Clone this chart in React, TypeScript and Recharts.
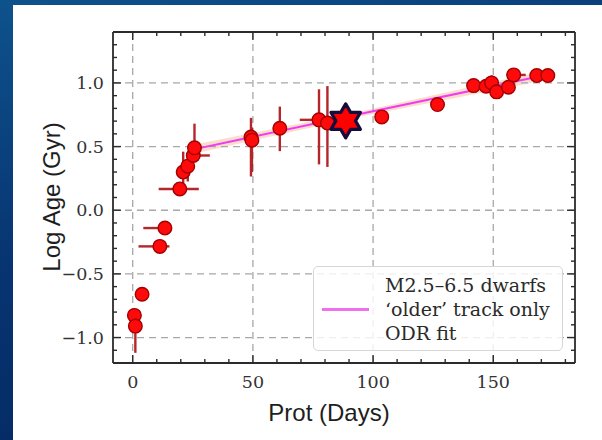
import {
  Area,
  ComposedChart,
  ErrorBar,
  Line,
  ReferenceLine,
  Scatter,
  XAxis,
  YAxis
} from "recharts";

// ---- data ----
const starX = [0.7, 1.1, 3.9, 11.3, 13.4, 19.6, 21.0, 22.9, 25.2, 25.7, 49.2, 49.6, 61.2, 77.5, 81.0, 103.6, 126.8, 141.8, 147.0, 149.3, 151.4, 156.3, 158.5, 168.1, 172.7];
const starY = [-0.826, -0.91, -0.66, -0.284, -0.14, 0.167, 0.3, 0.346, 0.43, 0.49, 0.575, 0.55, 0.644, 0.71, 0.685, 0.733, 0.83, 0.979, 0.974, 1.0, 0.93, 0.966, 1.063, 1.058, 1.058];
const xErrLow = [0, 0, 0, 8.9, 9.0, 8.8, 0, 0, 2.5, 0, 0, 0, 0, 8.0, 0, 2.0, 0, 0, 0, 0, 0, 0, 3.0, 0, 0];
const xErrHigh = [0, 0, 0, 4.0, 2.2, 7.9, 0, 0, 6.9, 0, 0, 0, 0, 2.0, 0, 3.0, 0, 0, 0, 0, 0, 0, 5.0, 0, 0];
const yErrLow = [0, 0.21, 0, 0, 0, 0, 0.09, 0.12, 0, 0.04, 0.31, 0.25, 0.18, 0.35, 0.345, 0, 0, 0, 0, 0.03, 0, 0, 0, 0, 0];
const yErrHigh = [0, 0.04, 0, 0, 0, 0, 0.16, 0.1, 0, 0.19, 0.15, 0.1, 0.17, 0.24, 0.29, 0, 0, 0, 0, 0.06, 0, 0, 0, 0, 0];

// TOI target (star marker)
const targetX = [88.6];
const targetY = [0.702];

// ODR fit of the 'older' track + its uncertainty band
const fitX = [26.8, 96, 166];
const fitY = [0.484, 0.761, 1.038];
const fitLow = [0.45, 0.741, 1.0];
const fitHigh = [0.52, 0.781, 1.075];

const majorXTicks = [0, 50, 100, 150];
const minorXTicks = [0, 10, 20, 30, 40, 50, 60, 70, 80, 90, 100, 110, 120, 130, 140, 150, 160, 170, 180];
const majorYTicks = [-1.0, -0.5, 0.0, 0.5, 1.0];
const majorYLabels = ["\u22121.0", "\u22120.5", "0.0", "0.5", "1.0"];
const minorYTicks = [-1.2, -1.1, -1.0, -0.9, -0.8, -0.7, -0.6, -0.5, -0.4, -0.3, -0.2, -0.1, 0.0, 0.1, 0.2, 0.3, 0.4, 0.5, 0.6, 0.7, 0.8, 0.9, 1.0, 1.1, 1.2, 1.3, 1.4];

const legendLines = ["M2.5\u20136.5 dwarfs", "\u2018older\u2019 track only", "ODR fit"];

// ---- layout ----
const X_DOMAIN: [number, number] = [-8.2, 184];
const Y_DOMAIN: [number, number] = [-1.2, 1.4];
const PLOT = { left: 113, right: 575, top: 32, bottom: 363 };
const AXIS = "#2b2b2b";
const GRID = "#a8a8a8";
const SERIF = "'DejaVu Serif', serif";
const SANS = "'Liberation Sans', Arial, sans-serif";

const points = starX.map((x, i) => ({
  x,
  y: starY[i],
  xerr: [xErrLow[i], xErrHigh[i]],
  yerr: [yErrLow[i], yErrHigh[i]]
}));
const target = targetX.map((x, i) => ({ x, y: targetY[i] }));
const fitData = fitX.map((x, i) => ({ x, fit: fitY[i], band: [fitLow[i], fitHigh[i]] }));

const isMajor = (v: number, list: number[]) => list.some((m) => Math.abs(m - v) < 1e-6);

const XTick = (props: any) => {
  const { x, payload } = props;
  const v = payload.value;
  const major = isMajor(v, majorXTicks);
  const len = major ? 8 : 4;
  return (
    <g>
      <line x1={x} x2={x} y1={PLOT.bottom} y2={PLOT.bottom - len} stroke={AXIS} strokeWidth={1.4} />
      <line x1={x} x2={x} y1={PLOT.top} y2={PLOT.top + len} stroke={AXIS} strokeWidth={1.4} />
      {major && (
        <text x={x} y={PLOT.bottom + 25} textAnchor="middle" fontFamily={SERIF} fontSize={17.5} fill="#333">
          {v}
        </text>
      )}
    </g>
  );
};

const YTick = (props: any) => {
  const { y, payload } = props;
  const v = payload.value;
  const idx = majorYTicks.findIndex((m) => Math.abs(m - v) < 1e-6);
  const len = idx >= 0 ? 8 : 4;
  return (
    <g>
      <line x1={PLOT.left} x2={PLOT.left + len} y1={y} y2={y} stroke={AXIS} strokeWidth={1.4} />
      <line x1={PLOT.right} x2={PLOT.right - len} y1={y} y2={y} stroke={AXIS} strokeWidth={1.4} />
      {idx >= 0 && (
        <text x={PLOT.left - 9} y={y + 6} textAnchor="end" fontFamily={SERIF} fontSize={17.5} fill="#333">
          {majorYLabels[idx]}
        </text>
      )}
    </g>
  );
};

const Dot = (props: any) => (
  <circle cx={props.cx} cy={props.cy} r={6.8} fill="#ff0a0a" stroke="#a30000" strokeWidth={1.4} />
);

const Hexagram = (props: any) => {
  const { cx, cy } = props;
  const R = 17;
  const r = R / Math.sqrt(3);
  const pts: string[] = [];
  for (let k = 0; k < 12; k++) {
    const rad = k % 2 === 0 ? R : r;
    const a = ((-90 + k * 30) * Math.PI) / 180;
    pts.push(`${cx + rad * Math.cos(a)},${cy + rad * Math.sin(a)}`);
  }
  return <polygon points={pts.join(" ")} fill="#ff0000" stroke="#170b3b" strokeWidth={3.2} strokeLinejoin="round" />;
};

export default function App() {
  return (
    <div
      style={{
        position: "absolute",
        left: 0,
        top: 0,
        width: 602,
        height: 440,
        overflow: "hidden",
        background: "linear-gradient(165deg, #0e528c 0%, #073471 45%, #04255c 100%)"
      }}
    >
      <div style={{ position: "absolute", left: 13, top: 5, width: 589, height: 435, background: "#ffffff" }} />
      <div style={{ position: "absolute", left: 0, top: 0 }}>
        <ComposedChart
          width={602}
          height={440}
          data={fitData}
          margin={{ top: PLOT.top, right: 602 - PLOT.right, bottom: 440 - PLOT.bottom - 30, left: PLOT.left - 60 }}
        >
          {majorXTicks.map((v) => (
            <ReferenceLine key={`gx${v}`} x={v} stroke={GRID} strokeWidth={1.3} strokeDasharray="7 5" />
          ))}
          {majorYTicks.map((v) => (
            <ReferenceLine key={`gy${v}`} y={v} stroke={GRID} strokeWidth={1.3} strokeDasharray="7 5" />
          ))}
          <XAxis
            type="number"
            dataKey="x"
            domain={X_DOMAIN}
            allowDataOverflow
            ticks={minorXTicks}
            interval={0}
            tick={<XTick />}
            tickLine={false}
            axisLine={false}
            height={30}
            label={{
              content: () => (
                <text x={(PLOT.left + PLOT.right) / 2 - 15} y={421} textAnchor="middle" fontFamily={SANS} fontSize={24} fill="#1e1e1e">
                  Prot (Days)
                </text>
              )
            }}
          />
          <YAxis
            type="number"
            dataKey="y"
            domain={Y_DOMAIN}
            allowDataOverflow
            ticks={minorYTicks}
            interval={0}
            tick={<YTick />}
            tickLine={false}
            axisLine={false}
            width={60}
            label={{
              content: () => (
                <text
                  x={60}
                  y={197}
                  transform="rotate(-90 60 197)"
                  textAnchor="middle"
                  fontFamily={SANS}
                  fontSize={24}
                  fill="#1e1e1e"
                >
                  Log Age (Gyr)
                </text>
              )
            }}
          />
          <Area
            type="linear"
            dataKey="band"
            stroke="none"
            fill="#f6b48f"
            fillOpacity={0.45}
            isAnimationActive={false}
          />
          <Line
            type="linear"
            dataKey="fit"
            stroke="#f03cf0"
            strokeWidth={2}
            dot={false}
            isAnimationActive={false}
          />
          <Scatter data={points} dataKey="y" shape={<Dot />} isAnimationActive={false}>
            <ErrorBar dataKey="xerr" direction="x" width={0} stroke="#b3262b" strokeWidth={2.4} />
            <ErrorBar dataKey="yerr" direction="y" width={0} stroke="#b3262b" strokeWidth={2.4} />
          </Scatter>
          <Scatter data={target} dataKey="y" shape={<Hexagram />} isAnimationActive={false} />
          <ReferenceLine x={X_DOMAIN[0]} stroke={AXIS} strokeWidth={1.8} />
          <ReferenceLine x={X_DOMAIN[1]} stroke={AXIS} strokeWidth={1.8} />
          <ReferenceLine y={Y_DOMAIN[0]} stroke={AXIS} strokeWidth={1.8} />
          <ReferenceLine y={Y_DOMAIN[1]} stroke={AXIS} strokeWidth={1.8} />
        </ComposedChart>
      </div>
      <div
        style={{
          position: "absolute",
          left: 313,
          top: 266,
          width: 250,
          height: 85,
          boxSizing: "border-box",
          border: "1.5px solid #d6d6d6",
          borderRadius: 5,
          background: "rgba(255,255,255,0.82)"
        }}
      >
        <div style={{ position: "absolute", left: 8, top: 41, width: 47, height: 2.5, background: "#f06ef0" }} />
        <div
          style={{
            position: "absolute",
            left: 71,
            top: 6,
            fontFamily: SERIF,
            fontSize: 19,
            lineHeight: "24px",
            color: "#2a2a2a",
            whiteSpace: "nowrap"
          }}
        >
          {legendLines.map((t) => (
            <div key={t}>{t}</div>
          ))}
        </div>
      </div>
    </div>
  );
}
